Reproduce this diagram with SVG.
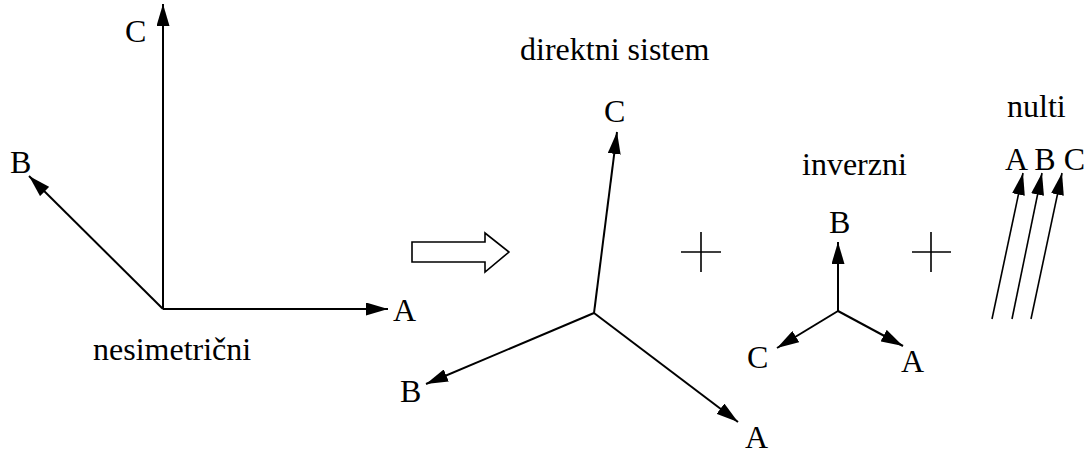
<svg xmlns="http://www.w3.org/2000/svg" width="1092" height="452" viewBox="0 0 1092 452">
<style>
.t{font-family:"Liberation Serif","Times New Roman",serif;font-size:32px;fill:#000}
.v{stroke:#000;stroke-width:2;fill:none;marker-end:url(#ah)}
.n{stroke:#000;stroke-width:1.6;fill:none;marker-end:url(#ah)}
.p{stroke:#000;stroke-width:1.6;fill:none}
</style>
<defs>
<marker id="ah" markerUnits="userSpaceOnUse" markerWidth="22" markerHeight="13" refX="22" refY="6.5" orient="auto">
<path d="M0,0 L22,6.5 L0,13 z" fill="#000"/>
</marker>
</defs>
<rect width="1092" height="452" fill="#fff"/>
<g id="connectors">
<line class="v" x1="163" y1="309" x2="163" y2="4"/>
<line class="v" x1="163" y1="309" x2="388" y2="309"/>
<line class="v" x1="163" y1="309" x2="29" y2="176"/>
<line class="v" x1="594" y1="313" x2="617" y2="132"/>
<line class="v" x1="594" y1="313" x2="426" y2="384"/>
<line class="v" x1="594" y1="313" x2="738" y2="422"/>
<line class="v" x1="838" y1="311" x2="838" y2="242"/>
<line class="v" x1="838" y1="311" x2="777" y2="348"/>
<line class="v" x1="838" y1="311" x2="903" y2="346"/>
<line class="n" x1="992" y1="319" x2="1023" y2="173"/>
<line class="n" x1="1012" y1="319" x2="1042" y2="173"/>
<line class="n" x1="1031" y1="319" x2="1062" y2="173"/>
</g>
<g id="nesimetricni">
<text class="t" x="125" y="42">C</text>
<text class="t" x="10" y="173">B</text>
<text class="t" x="393" y="321">A</text>
<text class="t" x="93" y="360">nesimetrični</text>
</g>
<g id="direktni">
<text class="t" x="520" y="60">direktni sistem</text>
<text class="t" x="604" y="122">C</text>
<text class="t" x="400" y="402">B</text>
<text class="t" x="745" y="448">A</text>
</g>
<g id="inverzni">
<text class="t" x="802" y="175">inverzni</text>
<text class="t" x="829" y="233">B</text>
<text class="t" x="747" y="368">C</text>
<text class="t" x="901" y="372">A</text>
</g>
<g id="nulti">
<text class="t" x="1007" y="117">nulti</text>
<text class="t" x="1005" y="170">A B C</text>
</g>
<g id="implies">
<polygon points="412,242 485,242 485,233 509,252 485,272 485,262 412,262" fill="#fff" stroke="#000" stroke-width="1.6"/>
</g>
<g id="plus1">
<path class="p" d="M681,252 H721 M701,232 V272"/>
</g>
<g id="plus2">
<path class="p" d="M912,252 H951 M931,232 V272"/>
</g>
</svg>
